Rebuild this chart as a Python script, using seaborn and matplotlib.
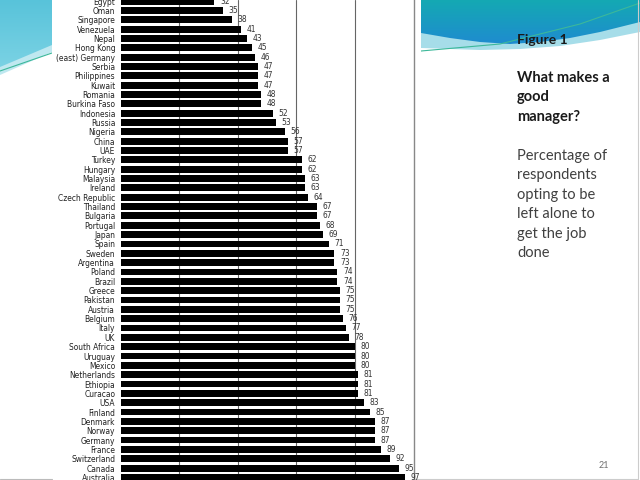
import numpy as np
import pandas as pd
import matplotlib
matplotlib.use("Agg")
import matplotlib.pyplot as plt
from matplotlib import font_manager
from matplotlib.patches import Polygon, Rectangle
import seaborn as sns

countries = ["Egypt", "Oman", "Singapore", "Venezuela", "Nepal", "Hong Kong",
             "(east) Germany", "Serbia", "Philippines", "Kuwait", "Romania",
             "Burkina Faso", "Indonesia", "Russia", "Nigeria", "China", "UAE",
             "Turkey", "Hungary", "Malaysia", "Ireland", "Czech Republic",
             "Thailand", "Bulgaria", "Portugal", "Japan", "Spain", "Sweden",
             "Argentina", "Poland", "Brazil", "Greece", "Pakistan", "Austria",
             "Belgium", "Italy", "UK", "South Africa", "Uruguay", "Mexico",
             "Netherlands", "Ethiopia", "Curacao", "USA", "Finland", "Denmark",
             "Norway", "Germany", "France", "Switzerland", "Canada", "Australia"]
values = [32, 35, 38, 41, 43, 45, 46, 47, 47, 47, 48, 48, 52, 53, 56, 57, 57,
          62, 62, 63, 63, 64, 67, 67, 68, 69, 71, 73, 73, 74, 74, 75, 75, 75,
          76, 77, 78, 80, 80, 80, 81, 81, 81, 83, 85, 87, 87, 87, 89, 92, 95, 97]
grid_ticks = [20, 40, 60, 80]

title_lines = ["What makes a", "good", "manager?"]
body_lines = ["Percentage of", "respondents", "opting to be", "left alone to",
              "get the job", "done"]

sns.set_theme(style="white")
plt.rcParams['font.family'] = ['DejaVu Sans']

# pick a narrow face for the small chart labels
names = {f.name for f in font_manager.fontManager.ttflist}
cond = [f for f in font_manager.fontManager.ttflist
        if f.name == "DejaVu Sans" and str(f.stretch) in ("condensed", "semi-condensed", "600", "500")]
if "Liberation Sans Narrow" in names:
    LBL = dict(family=["Liberation Sans Narrow"], size=6.5, stretch="normal")
elif cond:
    LBL = dict(family=["DejaVu Sans"], size=6.0, stretch="condensed")
else:
    LBL = dict(family=["Liberation Sans", "DejaVu Sans"], size=5.9, stretch="normal")

W, H = 640, 480
fig = plt.figure(figsize=(6.4, 4.8), dpi=100)
fig.patch.set_facecolor("white")

# background slide decoration layer (pixel coords)
bg = fig.add_axes([0, 0, 1, 1], zorder=0)
bg.set_xlim(0, W)
bg.set_ylim(H, 0)
bg.axis("off")

def grad_poly(ax, pts, c_top, c_bot, y0, y1, x0, x1):
    poly = Polygon(pts, closed=True, facecolor="none", edgecolor="none")
    ax.add_patch(poly)
    n = 64
    t = np.linspace(0, 1, n)[:, None]
    ct = np.array(matplotlib.colors.to_rgb(c_top))
    cb = np.array(matplotlib.colors.to_rgb(c_bot))
    img = (ct[None, None, :] * (1 - t[:, :, None]) + cb[None, None, :] * t[:, :, None])
    img = np.repeat(img, 2, axis=1)
    im = ax.imshow(img, extent=[x0, x1, y1, y0], aspect="auto", zorder=1)
    im.set_clip_path(poly)

# top-right wave
light_r = [(421, 0), (640, 0), (640, 32), (600, 40), (560, 46), (520, 49),
           (480, 50), (450, 49), (421, 48)]
bg.add_patch(Polygon(light_r, closed=True, facecolor="#a6dde9", edgecolor="none", zorder=0.5))
main_r = [(421, 0), (640, 0), (640, 22), (600, 32), (570, 38), (540, 42),
          (510, 44), (480, 42), (450, 38), (421, 33)]
grad_poly(bg, main_r, "#14a9b3", "#1f8bd0", 0, 45, 421, 640)
bg.plot([421, 500, 580, 640], [51, 44, 24, 3], color="#3cb89a", lw=0.8, zorder=2)

# top-left wave
light_l = [(0, 0), (52, 0), (52, 52), (0, 75)]
bg.add_patch(Polygon(light_l, closed=True, facecolor="#bfe8f0", edgecolor="none", zorder=0.5))
main_l = [(0, 0), (52, 0), (52, 45), (0, 67)]
grad_poly(bg, main_l, "#58c3da", "#7ad2e4", 0, 67, 0, 52)
bg.plot([0, 52], [71, 53], color="#3cb89a", lw=0.8, zorder=2)

# chart picture white backing
bg.add_patch(Rectangle((52, 0), 369, 480, facecolor="white", edgecolor="none", zorder=3))
# slide frame
bg.plot([0, 52], [479, 479], color="#bbbbbb", lw=0.8, zorder=4)
bg.plot([414, 638, 638], [479, 479, 0], color="#cccccc", lw=0.8, zorder=4)

# texts on right
tx = 517
fig.text(tx / W, 1 - 40 / H, "Figure 1", fontsize=10, fontweight="bold",
         color="#1a1a1a", family=["Lato", "DejaVu Sans"], va="center", ha="left")
for i, line in enumerate(title_lines):
    fig.text(tx / W, 1 - (78 + 19.4 * i) / H, line, fontsize=10.5, fontweight="bold",
             color="#1a1a1a", family=["Lato", "DejaVu Sans"], va="center", ha="left")
for i, line in enumerate(body_lines):
    fig.text(tx / W, 1 - (156 + 19.4 * i) / H, line, fontsize=10.5,
             color="#404040", family=["Lato", "DejaVu Sans"], va="center", ha="left")
fig.text(604 / W, 1 - 465 / H, "21", fontsize=6.5, color="#707070",
         family=["Lato", "DejaVu Sans"], ha="center", va="center")

# chart
ax = fig.add_axes([120.7 / W, 0, 292.8 / W, 1], zorder=5)
ax.set_facecolor("none")
df = pd.DataFrame({"country": countries, "value": values})
sns.barplot(data=df, x="value", y="country", color="black", width=0.74,
            saturation=1, ax=ax, zorder=3, edgecolor="none")
ax.set_xlim(0, 100)
step = 9.337
ax.set_ylim((H - 1.2) / step, -1.2 / step)
ax.set_xlabel("")
ax.set_ylabel("")
ax.set_xticks(grid_ticks)
ax.set_xticklabels([])
ax.tick_params(axis="x", length=0)
ax.grid(axis="x", color="#666666", lw=0.8, zorder=0)
ax.set_axisbelow(True)
ax.tick_params(axis="y", length=0, pad=4, labelcolor="#222222")
for lbl in ax.get_yticklabels():
    lbl.set_family(LBL["family"])
    lbl.set_fontsize(LBL["size"])
    lbl.set_fontstretch(LBL["stretch"])
for s in ["top", "bottom", "left"]:
    ax.spines[s].set_visible(False)
ax.spines["right"].set_color("#888888")
ax.spines["right"].set_linewidth(1.0)
for c in ax.containers:
    texts = ax.bar_label(c, labels=[str(v) for v in values], padding=4,
                         color="#333333")
    for t in texts:
        t.set_family(LBL["family"])
        t.set_fontsize(LBL["size"])
        t.set_fontstretch(LBL["stretch"])

fig.savefig("out.png", dpi=100)
